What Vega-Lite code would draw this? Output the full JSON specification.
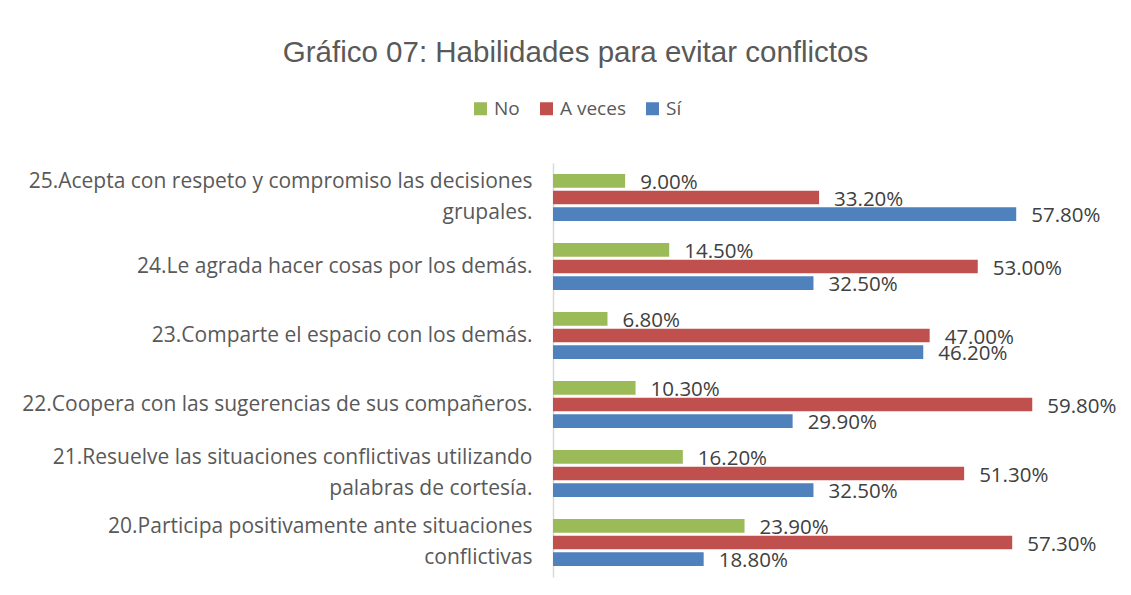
{
  "$schema": "https://vega.github.io/schema/vega-lite/v6.json",
  "width": 561,
  "height": 414,
  "autosize": {"type": "none"},
  "padding": {"left": 553, "top": 163, "right": 17, "bottom": 18},
  "background": "white",
  "title": {
    "text": "Gráfico 07: Habilidades para evitar conflictos",
    "anchor": "middle",
    "frame": "group",
    "dx": -258,
    "offset": 17,
    "baseline": "middle",
    "font": "Liberation Sans",
    "fontSize": 29.5,
    "fontWeight": "normal",
    "color": "#595959"
  },
  "data": {
    "values": [
      {"pregunta": "25.Acepta con respeto y compromiso las decisiones\ngrupales.", "respuesta": "No", "valor": 0.09},
      {"pregunta": "25.Acepta con respeto y compromiso las decisiones\ngrupales.", "respuesta": "A veces", "valor": 0.332},
      {"pregunta": "25.Acepta con respeto y compromiso las decisiones\ngrupales.", "respuesta": "Sí", "valor": 0.578},
      {"pregunta": "24.Le agrada hacer cosas por los demás.", "respuesta": "No", "valor": 0.145},
      {"pregunta": "24.Le agrada hacer cosas por los demás.", "respuesta": "A veces", "valor": 0.53},
      {"pregunta": "24.Le agrada hacer cosas por los demás.", "respuesta": "Sí", "valor": 0.325},
      {"pregunta": "23.Comparte el espacio con los demás.", "respuesta": "No", "valor": 0.068},
      {"pregunta": "23.Comparte el espacio con los demás.", "respuesta": "A veces", "valor": 0.47},
      {"pregunta": "23.Comparte el espacio con los demás.", "respuesta": "Sí", "valor": 0.462},
      {"pregunta": "22.Coopera con las sugerencias de sus compañeros.", "respuesta": "No", "valor": 0.103},
      {"pregunta": "22.Coopera con las sugerencias de sus compañeros.", "respuesta": "A veces", "valor": 0.598},
      {"pregunta": "22.Coopera con las sugerencias de sus compañeros.", "respuesta": "Sí", "valor": 0.299},
      {"pregunta": "21.Resuelve las situaciones conflictivas utilizando\npalabras de cortesía.", "respuesta": "No", "valor": 0.162},
      {"pregunta": "21.Resuelve las situaciones conflictivas utilizando\npalabras de cortesía.", "respuesta": "A veces", "valor": 0.513},
      {"pregunta": "21.Resuelve las situaciones conflictivas utilizando\npalabras de cortesía.", "respuesta": "Sí", "valor": 0.325},
      {"pregunta": "20.Participa positivamente ante situaciones\nconflictivas", "respuesta": "No", "valor": 0.239},
      {"pregunta": "20.Participa positivamente ante situaciones\nconflictivas", "respuesta": "A veces", "valor": 0.573},
      {"pregunta": "20.Participa positivamente ante situaciones\nconflictivas", "respuesta": "Sí", "valor": 0.188}
    ]
  },
  "encoding": {
    "y": {
      "field": "pregunta",
      "type": "nominal",
      "sort": null,
      "scale": {"paddingInner": 0, "paddingOuter": 0},
      "axis": {
        "title": null,
        "ticks": false,
        "labelPadding": 21,
        "labelFont": "Open Sans",
        "labelFontSize": 21,
        "labelColor": "#595959",
        "labelLimit": 700,
        "labelLineHeight": 31,
        "labelExpr": "split(datum.label, '\\n')",
        "labelOffset": {"condition": {"test": "indexof(datum.value, '\\n') >= 0", "value": -15.5}, "value": 0},
        "domainColor": "#D9D9D9",
        "domainWidth": 1.5,
        "grid": false
      }
    },
    "yOffset": {
      "field": "respuesta",
      "type": "nominal",
      "sort": ["No", "A veces", "Sí"],
      "scale": {"paddingInner": 0.18, "paddingOuter": 0.655}
    },
    "x": {
      "field": "valor",
      "type": "quantitative",
      "scale": {"domain": [0, 0.7]},
      "axis": null
    }
  },
  "layer": [
    {
      "mark": {"type": "bar"},
      "encoding": {
        "color": {
          "field": "respuesta",
          "type": "nominal",
          "sort": ["No", "A veces", "Sí"],
          "scale": {"domain": ["No", "A veces", "Sí"], "range": ["#9BBB59", "#C0504D", "#4F81BD"]},
          "legend": {
            "title": null,
            "orient": "none",
            "direction": "horizontal",
            "legendX": -82,
            "legendY": -64,
            "symbolType": "square",
            "symbolSize": 169,
            "symbolStrokeWidth": 0,
            "labelFont": "Open Sans",
            "labelFontSize": 19,
            "labelColor": "#595959",
            "labelOffset": 4,
            "columnPadding": 17
          }
        }
      }
    },
    {
      "mark": {
        "type": "text",
        "align": "left",
        "baseline": "middle",
        "dx": 15,
        "dy": 2,
        "font": "Open Sans",
        "fontSize": 20.5,
        "color": "#404040"
      },
      "encoding": {
        "text": {"field": "valor", "type": "quantitative", "format": ".2%"}
      }
    }
  ],
  "config": {"view": {"stroke": null}}
}
